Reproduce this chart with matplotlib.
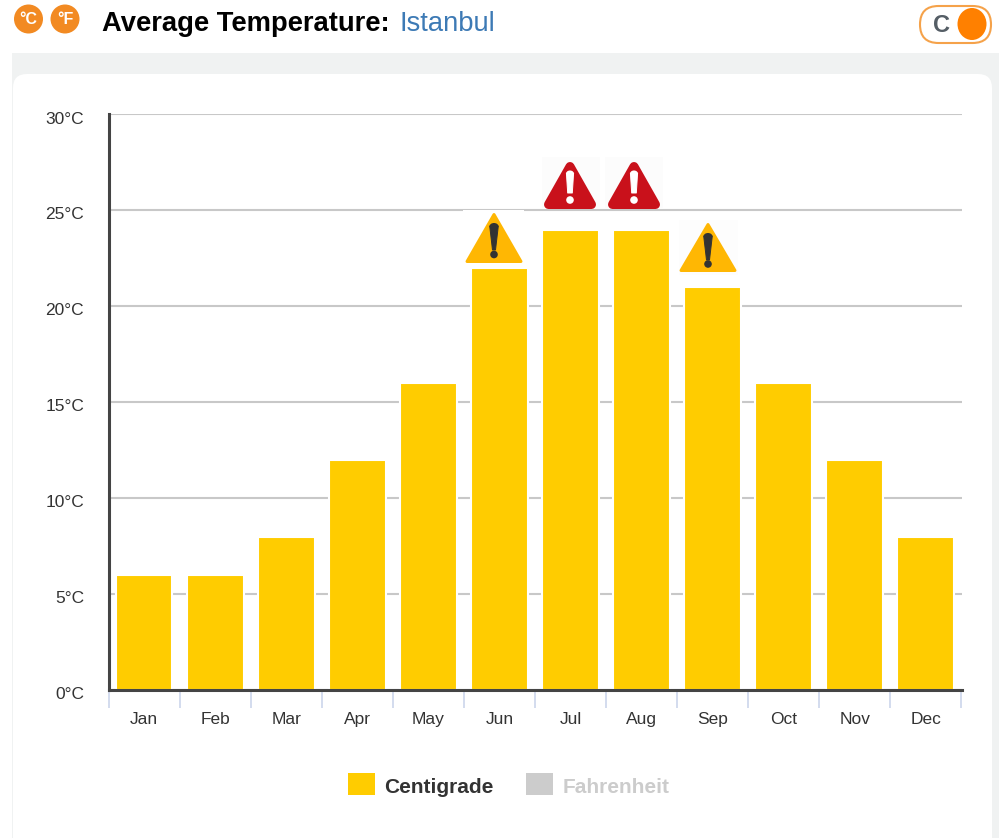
import matplotlib
matplotlib.use('Agg')
import matplotlib.pyplot as plt
from matplotlib.patches import Rectangle, FancyBboxPatch, Polygon, Circle, Ellipse
from matplotlib.transforms import ScaledTranslation

plt.rcParams['font.family'] = ['Liberation Sans', 'DejaVu Sans']

months = ['Jan', 'Feb', 'Mar', 'Apr', 'May', 'Jun', 'Jul', 'Aug', 'Sep', 'Oct', 'Nov', 'Dec']
temps = [6, 6, 8, 12, 16, 22, 24, 24, 21, 16, 12, 8]
yticks = [0, 5, 10, 15, 20, 25, 30]

W, H = 999, 838
fig = plt.figure(figsize=(W / 100, H / 100), dpi=100)

# page background in pixel coordinates
bg = fig.add_axes([0, 0, 1, 1], zorder=0)
bg.set_xlim(0, W)
bg.set_ylim(H, 0)
bg.axis('off')
bg.add_patch(Rectangle((12, 53), W - 12, H - 53, color='#f0f2f2', lw=0))
bg.add_patch(FancyBboxPatch((13, 74), 979, 800, boxstyle='round,pad=0,rounding_size=14',
                            mutation_scale=1, fc='white', lw=0))

ax = fig.add_axes([108.5 / W, 1 - 690 / H, (962 - 108.5) / W, (690 - 114.5) / H], zorder=1)
ax.patch.set_alpha(0)
ax.bar(range(12), temps, width=0.8, color='#ffcc00', edgecolor='white', linewidth=1.5, zorder=3)
ax.set_xlim(-0.49, 11.51)
ax.set_ylim(0, 30)

ax.set_yticks(yticks)
ax.set_yticklabels([str(t) + '°C' for t in yticks], fontsize=12.5, color='#333333')
ax.tick_params(axis='y', length=0, pad=17.5)
ax.grid(axis='y', color='#c8c8c8', lw=1.5, zorder=1)
for lab in ax.get_yticklabels():
    lab.set_transform(lab.get_transform() + ScaledTranslation(0, -2.2 / 72, fig.dpi_scale_trans))

ax.set_xticks([i - 0.5 for i in range(13)])
ax.set_xticklabels([])
ax.set_xticks(range(12), minor=True)
ax.set_xticklabels(months, minor=True, fontsize=12.5, color='#333333')
ax.tick_params(axis='x', which='major', length=13, width=1.2, color='#ccd6eb')
ax.tick_params(axis='x', which='minor', length=0, pad=15.7)

for s in ['top', 'right']:
    ax.spines[s].set_visible(False)
for s in ['left', 'bottom']:
    ax.spines[s].set_linewidth(2.2)
    ax.spines[s].set_color('#444444')
    ax.spines[s].set_zorder(5)

# everything else on top, again in pixels
top = fig.add_axes([0, 0, 1, 1], zorder=2)
top.set_xlim(0, W)
top.set_ylim(H, 0)
top.axis('off')
top.patch.set_alpha(0)

top.text(102, 24, 'Average Temperature:', fontsize=19.7, fontweight='bold', color='black', va='center')
top.text(400, 24, 'Istanbul', fontsize=19.7, color='#3d7ab5', va='center')

for cx, label in [(28.5, '°C'), (65, '°F')]:
    top.add_patch(Circle((cx, 19), 14.5, fc='#f28a22', lw=0))
    top.text(cx, 19, label, fontsize=11.5, fontweight='bold', color='white', ha='center', va='center')

top.add_patch(FancyBboxPatch((920, 6), 71, 37, boxstyle='round,pad=0,rounding_size=18.5',
                             mutation_scale=1, fc='white', ec='#f5a24a', lw=1.5))
top.text(941, 25, 'C', fontsize=17, fontweight='bold', color='#555e66', ha='center', va='center')
top.add_patch(Ellipse((972, 24), 29, 32, fc='#ff8000', lw=0))

# warning icons
def warn(cx, apex, base, half, fc, mark, box, stem, dot, r, w, tip):
    # stroke width rounds the corners, outline is inset by the radius
    top.add_patch(Rectangle((box[0], box[1]), box[2] - box[0], box[3] - box[1], fc=box[4], lw=0))
    top.add_patch(Polygon([(cx, apex + r), (cx - half + r, base - r), (cx + half - r, base - r)],
                          closed=True, fc=fc, ec=fc, lw=r * 2 * 0.72, joinstyle='round'))
    top.add_patch(Polygon([(cx - w, stem[0]), (cx + w, stem[0]), (cx + tip, stem[1]), (cx - tip, stem[1])],
                          closed=True, fc=mark, ec=mark, lw=0.7, joinstyle='round'))
    top.add_patch(Ellipse((cx, stem[0]), w * 2, w * 1.4, fc=mark, lw=0))
    top.add_patch(Circle((cx, dot), 3.8, fc=mark, lw=0))

warn(494, 213, 263, 28.5, '#ffb703', '#333333', (463, 209.5, 524, 268, 'white'), (226, 250), 254.5, 1.5, 4.3, 1.5)
warn(570, 162, 209, 26, '#c9111b', 'white', (542, 157, 600, 208, '#fcfcfc'), (173, 193), 200, 4.5, 3.6, 2.3)
warn(634, 162, 209, 26, '#c9111b', 'white', (605, 157, 663, 208, '#fcfcfc'), (173, 193), 200, 4.5, 3.6, 2.3)
warn(708, 223, 272, 28.5, '#ffb703', '#333333', (679, 220, 738, 275, '#fdfdfd'), (236, 260), 264, 1.5, 4.3, 1.5)

# legend
top.add_patch(Rectangle((348, 773), 27, 22, fc='#ffcc00', lw=0))
top.text(384, 787, 'Centigrade', fontsize=15, fontweight='bold', color='#333333', va='center')
top.add_patch(Rectangle((526, 773), 27, 22, fc='#cccccc', lw=0))
top.text(563, 787, 'Fahrenheit', fontsize=15, fontweight='bold', color='#cccccc', va='center')

fig.savefig('out.png', dpi=100)
